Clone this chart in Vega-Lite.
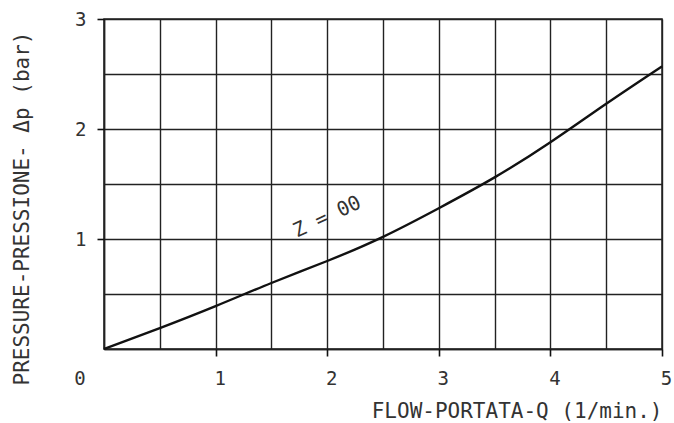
{
  "$schema": "https://vega.github.io/schema/vega-lite/v6.json",
  "width": 558,
  "height": 330,
  "autosize": {"type": "none"},
  "padding": {"left": 104, "top": 19, "right": 12, "bottom": 74},
  "background": "white",
  "config": {
    "view": {"stroke": "#222", "strokeWidth": 1.5},
    "font": "DejaVu Sans Mono",
    "axis": {
      "domainColor": "#222",
      "domainWidth": 1.5,
      "gridColor": "#222",
      "gridWidth": 1.4,
      "gridOpacity": 1,
      "tickColor": "#111",
      "tickWidth": 1.6,
      "tickSize": 7,
      "labelFont": "DejaVu Sans Mono",
      "labelFontSize": 19,
      "labelColor": "#333",
      "titleFont": "DejaVu Sans Mono",
      "titleFontSize": 21,
      "titleFontWeight": "normal",
      "titleColor": "#333"
    }
  },
  "resolve": {"axis": {"x": "independent", "y": "independent"}},
  "layer": [
    {
      "data": {
        "values": [
          {"q": 0, "p": 0},
          {"q": 0.5, "p": 0.19},
          {"q": 1, "p": 0.39},
          {"q": 1.5, "p": 0.6},
          {"q": 2, "p": 0.8},
          {"q": 2.5, "p": 1.02},
          {"q": 3, "p": 1.28},
          {"q": 3.5, "p": 1.56},
          {"q": 4, "p": 1.88},
          {"q": 4.5, "p": 2.23},
          {"q": 5, "p": 2.57}
        ]
      },
      "mark": {"type": "line", "interpolate": "natural", "color": "#111", "strokeWidth": 2.4},
      "encoding": {
        "x": {
          "field": "q",
          "type": "quantitative",
          "scale": {"domain": [0, 5], "nice": false},
          "axis": {
            "orient": "bottom",
            "values": [0, 0.5, 1, 1.5, 2, 2.5, 3, 3.5, 4, 4.5, 5],
            "grid": true,
            "ticks": false,
            "labels": false,
            "title": null
          }
        },
        "y": {
          "field": "p",
          "type": "quantitative",
          "scale": {"domain": [0, 3], "nice": false},
          "axis": {
            "orient": "left",
            "values": [0, 0.5, 1, 1.5, 2, 2.5, 3],
            "grid": true,
            "ticks": false,
            "labels": false,
            "title": null
          }
        }
      }
    },
    {
      "data": {"values": [{"q": 2.0, "p": 1.2, "t": "Z = 00"}]},
      "mark": {"type": "text", "font": "DejaVu Sans Mono", "fontSize": 20, "angle": 335, "color": "#333", "align": "center", "baseline": "middle"},
      "encoding": {
        "x": {
          "field": "q",
          "type": "quantitative",
          "axis": {
            "orient": "bottom",
            "values": [1, 2, 3, 4, 5],
            "format": "d",
            "grid": false,
            "domain": false,
            "labelOffset": 4,
            "labelPadding": 13,
            "labelFlush": false,
            "title": "FLOW-PORTATA-Q  (1/min.)",
            "titleAnchor": "end",
            "titleAlign": "right",
            "titlePadding": 12
          }
        },
        "y": {
          "field": "p",
          "type": "quantitative",
          "axis": {
            "orient": "left",
            "values": [1, 2, 3],
            "format": "d",
            "grid": false,
            "domain": false,
            "labelPadding": 11,
            "labelFlush": false,
            "title": "PRESSURE-PRESSIONE- Δp (bar)",
            "titleAnchor": "middle",
            "titleY": 189,
            "titleX": -82,
            "titleBaseline": "middle",
            "titleAngle": -90
          }
        },
        "text": {"field": "t"}
      }
    },
    {
      "data": {"values": [{"q": -0.215, "p": -0.27, "t": "0"}]},
      "mark": {"type": "text", "font": "DejaVu Sans Mono", "fontSize": 19, "color": "#333", "align": "center", "baseline": "middle", "clip": false},
      "encoding": {
        "x": {"field": "q", "type": "quantitative", "axis": null},
        "y": {"field": "p", "type": "quantitative", "axis": null},
        "text": {"field": "t"}
      }
    }
  ]
}
